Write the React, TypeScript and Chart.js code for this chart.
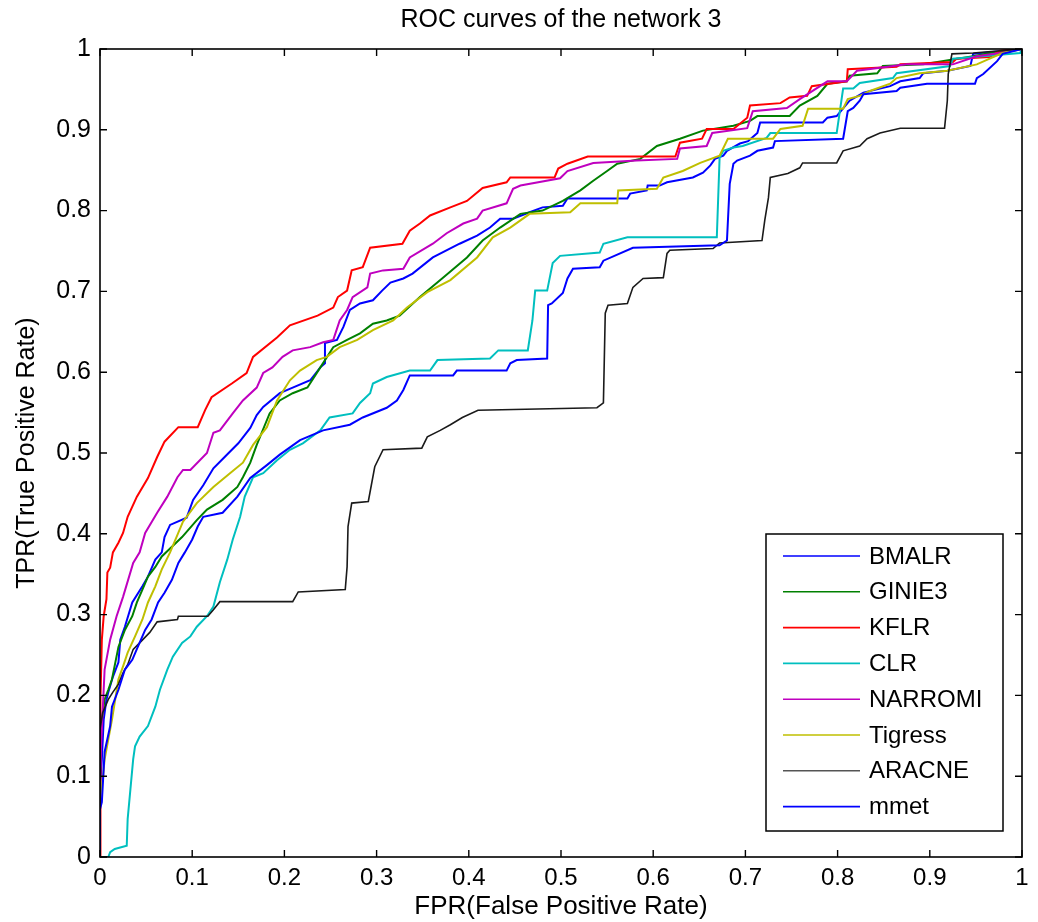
import React, { useEffect, useRef } from "react";
import { Chart, registerables } from "chart.js";

Chart.register(...registerables);

const TITLE = "ROC curves of the network 3";
const X_TITLE = "FPR(False Positive Rate)";
const Y_TITLE = "TPR(True Positive Rate)";
const TICK_VALUES = [0, 0.1, 0.2, 0.3, 0.4, 0.5, 0.6, 0.7, 0.8, 0.9, 1];

const SERIES_NAMES = ["BMALR", "GINIE3", "KFLR", "CLR", "NARROMI", "Tigress", "ARACNE", "mmet"];
const SERIES_COLORS = ["#0000ff", "#008000", "#ff0000", "#00bfbf", "#bf00bf", "#bfbf00", "#1a1a1a", "#0000ff"];

const BMALR_FPR = [0, 0, 0.002, 0.004, 0.007, 0.009, 0.014, 0.02, 0.022, 0.027, 0.035, 0.046, 0.052, 0.06, 0.067, 0.07, 0.076, 0.094, 0.101, 0.112, 0.123, 0.136, 0.15, 0.163, 0.17, 0.177, 0.195, 0.209, 0.228, 0.239, 0.244, 0.244, 0.257, 0.264, 0.271, 0.282, 0.296, 0.306, 0.315, 0.329, 0.339, 0.361, 0.39, 0.409, 0.423, 0.434, 0.448, 0.466, 0.48, 0.502, 0.507, 0.572, 0.575, 0.593, 0.594, 0.607, 0.615, 0.643, 0.654, 0.662, 0.667, 0.676, 0.68, 0.694, 0.703, 0.713, 0.716, 0.784, 0.789, 0.799, 0.813, 0.828, 0.857, 0.868, 0.889, 0.893, 0.919, 0.944, 0.947, 1];
const BMALR_TPR = [0, 0.084, 0.121, 0.17, 0.195, 0.204, 0.223, 0.241, 0.269, 0.285, 0.315, 0.335, 0.347, 0.368, 0.377, 0.396, 0.411, 0.42, 0.442, 0.46, 0.481, 0.496, 0.512, 0.531, 0.547, 0.557, 0.574, 0.581, 0.59, 0.606, 0.611, 0.636, 0.64, 0.656, 0.677, 0.685, 0.689, 0.701, 0.711, 0.716, 0.722, 0.742, 0.759, 0.769, 0.779, 0.79, 0.79, 0.798, 0.804, 0.806, 0.815, 0.815, 0.821, 0.825, 0.831, 0.831, 0.835, 0.841, 0.847, 0.856, 0.864, 0.868, 0.874, 0.883, 0.886, 0.896, 0.909, 0.909, 0.915, 0.917, 0.936, 0.946, 0.954, 0.96, 0.964, 0.97, 0.973, 0.979, 0.994, 1];

const GINIE3_FPR = [0, 0, 0.002, 0.005, 0.009, 0.013, 0.02, 0.027, 0.035, 0.04, 0.046, 0.052, 0.06, 0.067, 0.078, 0.089, 0.105, 0.116, 0.133, 0.149, 0.155, 0.163, 0.17, 0.184, 0.195, 0.209, 0.225, 0.239, 0.253, 0.268, 0.282, 0.296, 0.311, 0.325, 0.347, 0.372, 0.398, 0.415, 0.434, 0.456, 0.48, 0.502, 0.521, 0.535, 0.55, 0.561, 0.586, 0.604, 0.629, 0.654, 0.687, 0.705, 0.713, 0.748, 0.759, 0.778, 0.789, 0.81, 0.813, 0.843, 0.849, 0.893, 0.947, 0.965, 1];
const GINIE3_TPR = [0, 0.121, 0.17, 0.195, 0.207, 0.22, 0.26, 0.281, 0.298, 0.315, 0.331, 0.347, 0.359, 0.372, 0.384, 0.396, 0.417, 0.43, 0.442, 0.458, 0.47, 0.488, 0.51, 0.549, 0.565, 0.574, 0.581, 0.606, 0.631, 0.64, 0.648, 0.66, 0.664, 0.67, 0.693, 0.717, 0.742, 0.763, 0.779, 0.796, 0.8, 0.812, 0.825, 0.837, 0.849, 0.858, 0.864, 0.88, 0.889, 0.899, 0.905, 0.911, 0.917, 0.917, 0.93, 0.942, 0.957, 0.96, 0.967, 0.97, 0.979, 0.981, 0.991, 0.995, 1];

const KFLR_FPR = [0, 0, 0.001, 0.002, 0.004, 0.007, 0.008, 0.011, 0.014, 0.02, 0.025, 0.03, 0.04, 0.052, 0.062, 0.07, 0.085, 0.106, 0.114, 0.121, 0.143, 0.159, 0.166, 0.192, 0.206, 0.236, 0.253, 0.258, 0.268, 0.273, 0.285, 0.293, 0.328, 0.336, 0.347, 0.358, 0.38, 0.398, 0.415, 0.441, 0.445, 0.493, 0.497, 0.507, 0.529, 0.624, 0.629, 0.653, 0.658, 0.687, 0.702, 0.705, 0.738, 0.748, 0.767, 0.772, 0.81, 0.811, 0.864, 0.868, 0.925, 0.929, 0.965, 0.976, 1];
const KFLR_TPR = [0, 0.121, 0.195, 0.269, 0.298, 0.319, 0.352, 0.358, 0.377, 0.389, 0.401, 0.421, 0.446, 0.469, 0.495, 0.514, 0.532, 0.532, 0.553, 0.569, 0.586, 0.599, 0.619, 0.643, 0.658, 0.67, 0.68, 0.693, 0.701, 0.726, 0.73, 0.754, 0.759, 0.775, 0.784, 0.794, 0.804, 0.812, 0.828, 0.835, 0.841, 0.841, 0.852, 0.858, 0.867, 0.867, 0.884, 0.889, 0.901, 0.901, 0.915, 0.93, 0.933, 0.94, 0.942, 0.954, 0.96, 0.975, 0.978, 0.981, 0.984, 0.988, 0.99, 0.998, 1];

const CLR_FPR = [0, 0.009, 0.011, 0.016, 0.029, 0.03, 0.033, 0.036, 0.038, 0.043, 0.052, 0.06, 0.065, 0.073, 0.079, 0.089, 0.098, 0.105, 0.116, 0.123, 0.13, 0.138, 0.144, 0.152, 0.157, 0.166, 0.177, 0.192, 0.206, 0.22, 0.239, 0.249, 0.274, 0.282, 0.293, 0.296, 0.311, 0.336, 0.358, 0.366, 0.423, 0.432, 0.464, 0.469, 0.472, 0.485, 0.491, 0.499, 0.542, 0.546, 0.572, 0.669, 0.672, 0.676, 0.687, 0.697, 0.723, 0.727, 0.799, 0.806, 0.817, 0.824, 0.86, 0.864, 0.922, 0.925, 0.998, 1];
const CLR_TPR = [0, 0, 0.006, 0.01, 0.014, 0.047, 0.084, 0.121, 0.137, 0.149, 0.162, 0.186, 0.207, 0.232, 0.248, 0.265, 0.273, 0.285, 0.298, 0.31, 0.34, 0.368, 0.393, 0.421, 0.446, 0.47, 0.475, 0.491, 0.504, 0.512, 0.528, 0.544, 0.549, 0.562, 0.574, 0.586, 0.594, 0.602, 0.602, 0.615, 0.617, 0.627, 0.627, 0.664, 0.701, 0.701, 0.735, 0.744, 0.748, 0.759, 0.767, 0.767, 0.865, 0.874, 0.878, 0.88, 0.89, 0.896, 0.896, 0.951, 0.951, 0.958, 0.964, 0.97, 0.979, 0.988, 0.995, 1];

const NARROMI_FPR = [0, 0, 0.002, 0.005, 0.011, 0.018, 0.025, 0.036, 0.043, 0.049, 0.062, 0.073, 0.084, 0.09, 0.098, 0.116, 0.123, 0.13, 0.144, 0.155, 0.17, 0.177, 0.187, 0.198, 0.209, 0.228, 0.242, 0.253, 0.26, 0.268, 0.274, 0.29, 0.293, 0.307, 0.329, 0.336, 0.361, 0.376, 0.394, 0.409, 0.415, 0.441, 0.448, 0.456, 0.499, 0.507, 0.535, 0.582, 0.626, 0.629, 0.658, 0.664, 0.702, 0.708, 0.745, 0.759, 0.789, 0.81, 0.821, 0.875, 0.925, 0.951, 0.976, 1];
const NARROMI_TPR = [0, 0.109, 0.158, 0.232, 0.269, 0.298, 0.322, 0.364, 0.377, 0.401, 0.426, 0.446, 0.47, 0.479, 0.479, 0.5, 0.525, 0.528, 0.549, 0.565, 0.581, 0.599, 0.606, 0.619, 0.627, 0.631, 0.637, 0.64, 0.664, 0.677, 0.693, 0.705, 0.722, 0.726, 0.728, 0.742, 0.759, 0.772, 0.784, 0.79, 0.8, 0.809, 0.827, 0.831, 0.84, 0.849, 0.859, 0.862, 0.864, 0.877, 0.88, 0.896, 0.902, 0.923, 0.927, 0.938, 0.96, 0.96, 0.973, 0.981, 0.981, 0.991, 0.995, 1];

const TIGRESS_FPR = [0, 0, 0.003, 0.005, 0.013, 0.02, 0.025, 0.03, 0.038, 0.046, 0.052, 0.06, 0.067, 0.076, 0.09, 0.105, 0.123, 0.141, 0.155, 0.166, 0.181, 0.192, 0.206, 0.217, 0.235, 0.246, 0.26, 0.279, 0.296, 0.318, 0.333, 0.355, 0.38, 0.409, 0.426, 0.445, 0.466, 0.51, 0.521, 0.561, 0.562, 0.604, 0.611, 0.632, 0.651, 0.672, 0.681, 0.73, 0.738, 0.762, 0.768, 0.806, 0.811, 0.824, 0.835, 0.857, 0.864, 0.889, 0.919, 0.951, 0.965, 0.979, 1];
const TIGRESS_TPR = [0, 0.072, 0.096, 0.121, 0.17, 0.22, 0.236, 0.253, 0.273, 0.294, 0.315, 0.335, 0.356, 0.377, 0.415, 0.438, 0.458, 0.475, 0.488, 0.51, 0.532, 0.565, 0.59, 0.602, 0.615, 0.619, 0.631, 0.64, 0.652, 0.664, 0.68, 0.699, 0.714, 0.742, 0.767, 0.779, 0.796, 0.798, 0.809, 0.809, 0.825, 0.827, 0.841, 0.849, 0.859, 0.868, 0.889, 0.889, 0.901, 0.905, 0.926, 0.926, 0.938, 0.942, 0.948, 0.957, 0.964, 0.97, 0.973, 0.981, 0.988, 0.995, 1];

const ARACNE_FPR = [0, 0, 0.003, 0.009, 0.014, 0.02, 0.025, 0.03, 0.036, 0.043, 0.054, 0.062, 0.084, 0.085, 0.117, 0.123, 0.13, 0.209, 0.215, 0.266, 0.268, 0.269, 0.273, 0.291, 0.298, 0.307, 0.349, 0.355, 0.369, 0.38, 0.393, 0.41, 0.539, 0.546, 0.548, 0.551, 0.572, 0.578, 0.589, 0.611, 0.615, 0.618, 0.665, 0.672, 0.718, 0.721, 0.725, 0.727, 0.746, 0.759, 0.762, 0.799, 0.806, 0.824, 0.832, 0.846, 0.868, 0.916, 0.919, 0.92, 0.924, 0.947, 1];
const ARACNE_TPR = [0, 0.158, 0.179, 0.195, 0.204, 0.214, 0.228, 0.238, 0.257, 0.265, 0.278, 0.291, 0.294, 0.298, 0.298, 0.306, 0.316, 0.316, 0.328, 0.331, 0.359, 0.409, 0.438, 0.44, 0.483, 0.504, 0.506, 0.52, 0.528, 0.535, 0.544, 0.553, 0.556, 0.562, 0.673, 0.683, 0.685, 0.705, 0.716, 0.717, 0.747, 0.751, 0.753, 0.76, 0.763, 0.788, 0.816, 0.841, 0.846, 0.853, 0.859, 0.859, 0.874, 0.88, 0.889, 0.896, 0.902, 0.902, 0.936, 0.969, 0.994, 0.995, 1];

const MMET_FPR = [0, 0, 0.002, 0.005, 0.011, 0.013, 0.02, 0.027, 0.035, 0.041, 0.049, 0.056, 0.063, 0.07, 0.078, 0.085, 0.092, 0.1, 0.106, 0.112, 0.133, 0.149, 0.163, 0.181, 0.195, 0.217, 0.242, 0.271, 0.285, 0.311, 0.322, 0.329, 0.336, 0.383, 0.387, 0.441, 0.445, 0.452, 0.485, 0.486, 0.49, 0.502, 0.507, 0.513, 0.542, 0.546, 0.578, 0.672, 0.68, 0.683, 0.687, 0.691, 0.705, 0.713, 0.73, 0.732, 0.806, 0.811, 0.817, 0.824, 0.828, 0.864, 0.868, 0.897, 0.949, 0.951, 0.958, 0.973, 0.979, 1];
const MMET_TPR = [0, 0.059, 0.068, 0.13, 0.162, 0.186, 0.207, 0.232, 0.244, 0.26, 0.281, 0.294, 0.315, 0.327, 0.343, 0.364, 0.377, 0.393, 0.409, 0.421, 0.426, 0.446, 0.469, 0.485, 0.498, 0.516, 0.528, 0.535, 0.544, 0.556, 0.565, 0.578, 0.596, 0.596, 0.602, 0.602, 0.611, 0.615, 0.617, 0.683, 0.685, 0.698, 0.716, 0.728, 0.73, 0.738, 0.754, 0.757, 0.763, 0.833, 0.858, 0.862, 0.868, 0.874, 0.878, 0.886, 0.889, 0.923, 0.927, 0.936, 0.944, 0.948, 0.952, 0.957, 0.957, 0.964, 0.969, 0.985, 0.994, 1];

const SERIES_FPR = [BMALR_FPR, GINIE3_FPR, KFLR_FPR, CLR_FPR, NARROMI_FPR, TIGRESS_FPR, ARACNE_FPR, MMET_FPR];
const SERIES_TPR = [BMALR_TPR, GINIE3_TPR, KFLR_TPR, CLR_TPR, NARROMI_TPR, TIGRESS_TPR, ARACNE_TPR, MMET_TPR];

const FONT = "'Liberation Sans', Arial, sans-serif";

const framePlugin = {
  id: "frameTicksLegend",
  afterDraw(chart: any) {
    const { ctx, chartArea, scales } = chart;
    const { left, right, top, bottom } = chartArea;
    ctx.save();
    ctx.strokeStyle = "#000";
    ctx.lineWidth = 1.6;
    ctx.strokeRect(left, top, right - left, bottom - top);
    const tl = 7;
    ctx.lineWidth = 1.4;
    ctx.beginPath();
    TICK_VALUES.forEach((t) => {
      const px = scales.x.getPixelForValue(t);
      ctx.moveTo(px, bottom);
      ctx.lineTo(px, bottom - tl);
      ctx.moveTo(px, top);
      ctx.lineTo(px, top + tl);
      const py = scales.y.getPixelForValue(t);
      ctx.moveTo(left, py);
      ctx.lineTo(left + tl, py);
      ctx.moveTo(right, py);
      ctx.lineTo(right - tl, py);
    });
    ctx.stroke();

    const bx = right - 256;
    const by = bottom - 323;
    const bw = 237;
    const bh = 297;
    ctx.fillStyle = "#fff";
    ctx.fillRect(bx, by, bw, bh);
    ctx.strokeStyle = "#000";
    ctx.lineWidth = 1.5;
    ctx.strokeRect(bx, by, bw, bh);
    ctx.font = `24px ${FONT}`;
    ctx.textBaseline = "middle";
    ctx.textAlign = "left";
    SERIES_NAMES.forEach((name, i) => {
      const yy = by + 22 + i * 35.8;
      ctx.strokeStyle = i === 6 ? "#555" : SERIES_COLORS[i];
      ctx.lineWidth = 1.6;
      ctx.beginPath();
      ctx.moveTo(bx + 17, yy);
      ctx.lineTo(bx + 94, yy);
      ctx.stroke();
      ctx.fillStyle = "#000";
      ctx.fillText(name, bx + 103, yy + 1);
    });
    ctx.restore();
  },
};

export default function App() {
  const canvasRef = useRef<HTMLCanvasElement | null>(null);

  useEffect(() => {
    if (!canvasRef.current) return;
    const datasets = SERIES_NAMES.map((name, i) => ({
      label: name,
      data: SERIES_FPR[i].map((fx, k) => ({ x: fx, y: SERIES_TPR[i][k] })),
      borderColor: SERIES_COLORS[i],
      backgroundColor: SERIES_COLORS[i],
      borderWidth: i === 6 ? 1.6 : 2,
      pointRadius: 0,
      tension: 0,
      fill: false,
      order: SERIES_NAMES.length - i,
    }));
    const tickCb = (v: any) => String(Math.round(Number(v) * 10) / 10);
    const chart = new Chart(canvasRef.current, {
      type: "line",
      data: { datasets },
      options: {
        animation: false,
        responsive: false,
        layout: { padding: { left: 0, right: 16, top: 0, bottom: 0 } },
        plugins: {
          legend: { display: false },
          tooltip: { enabled: false },
          title: {
            display: true,
            text: TITLE,
            fullSize: false,
            color: "#000",
            font: { family: FONT, size: 25, weight: "normal" },
            padding: { top: 5, bottom: 14 },
          },
        },
        scales: {
          x: {
            type: "linear",
            min: 0,
            max: 1,
            grid: { display: false, drawTicks: false },
            border: { display: false },
            ticks: {
              stepSize: 0.1,
              padding: 7,
              color: "#000",
              font: { family: FONT, size: 24 },
              maxRotation: 0,
              callback: tickCb,
            },
            title: {
              display: true,
              text: X_TITLE,
              color: "#000",
              font: { family: FONT, size: 26 },
              padding: { top: 0, bottom: 0 },
            },
            afterFit: (scale: any) => {
              scale.height = 65;
            },
          },
          y: {
            type: "linear",
            min: 0,
            max: 1,
            grid: { display: false, drawTicks: false },
            border: { display: false },
            ticks: {
              stepSize: 0.1,
              padding: 9,
              color: "#000",
              font: { family: FONT, size: 25 },
              callback: tickCb,
            },
            title: {
              display: true,
              text: Y_TITLE,
              color: "#000",
              font: { family: FONT, size: 25 },
              padding: { top: 12, bottom: 0 },
            },
            afterFit: (scale: any) => {
              scale.width = 100;
            },
          },
        },
      },
      plugins: [framePlugin],
    });
    return () => chart.destroy();
  }, []);

  return (
    <div style={{ position: "absolute", left: 0, top: 0, width: 1038, height: 922, background: "#fff" }}>
      <canvas ref={canvasRef} width={1038} height={922} style={{ display: "block" }} />
    </div>
  );
}
